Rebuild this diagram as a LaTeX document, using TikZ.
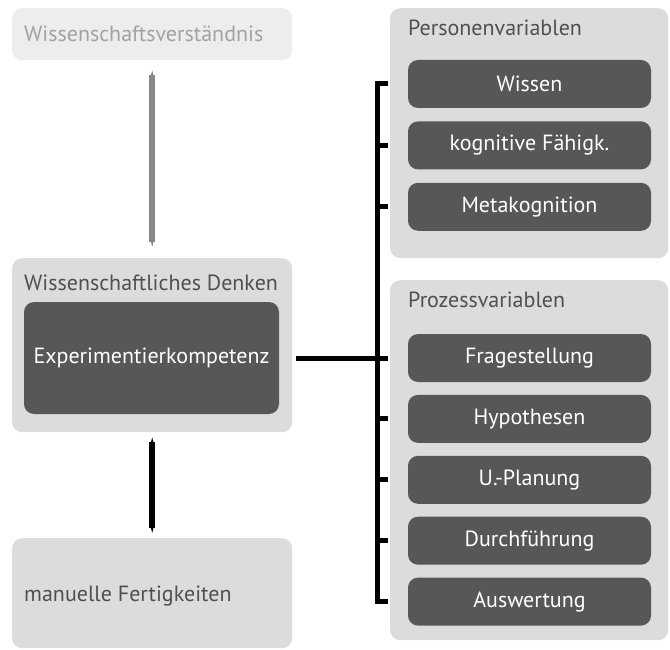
\documentclass[tikz,border=0pt]{standalone}
\usepackage{fontspec}
\setmainfont{PT Sans}
\usetikzlibrary{positioning, arrows.meta}
\definecolor{panel}{HTML}{DCDCDC}
\definecolor{pale}{HTML}{EDEDED}
\definecolor{slate}{HTML}{575757}
\definecolor{caption}{HTML}{505050}
\definecolor{faded}{HTML}{A2A2A2}
\definecolor{linkgray}{HTML}{888888}
\tikzset{
  panelbox/.style={fill=panel, rounded corners=10pt, anchor=north west},
  inner/.style={fill=slate, rounded corners=10pt, text=white, minimum width=243pt, minimum height=48pt, font=\fontsize{22}{26}\selectfont},
  title/.style={anchor=west, inner sep=0pt, text=caption, font=\fontsize{22}{26}\selectfont},
  link/.style={line width=6pt, {Stealth[length=8pt,width=4pt]}-{Stealth[length=8pt,width=4pt]}},
  bracket/.style={line width=5pt},
  >=Stealth,
}
\begin{document}
\begin{tikzpicture}[x=1pt, y=-1pt]
    \useasboundingbox (0,0) rectangle (670,650);
    % left column
    \node[panelbox, fill=pale, minimum width=280pt, minimum height=52pt] (verst) at (12,8) {};
    \node[title, text=faded] (versttext) at (24,34) {Wissenschaftsverständnis};
    \node[panelbox, minimum width=280pt, minimum height=174pt] (denken) at (12,258) {};
    \node[title] (denkentext) at (24,283) {Wissenschaftliches Denken};
    \node[inner, minimum width=255pt, minimum height=112pt] (kompetenz) at (151.5,358) {Experimentierkompetenz};
    \node[panelbox, minimum width=280pt, minimum height=110pt] (manuell) at (12,538) {};
    \node[title] (manuelltext) at (24,596) {manuelle Fertigkeiten};
    % right column
    \node[panelbox, minimum width=278pt, minimum height=250pt] (personen) at (390,8) {};
    \node[title] (personentext) at (408,28) {Personenvariablen};
    \node[inner] (wissen) at (529.5,84) {Wissen};
    \node[inner, below=13pt of wissen] (kognitiv) {kognitive Fähigk.};
    \node[inner, below=13pt of kognitiv] (meta) {Metakognition};
    \node[panelbox, minimum width=278pt, minimum height=360pt] (prozess) at (390,280) {};
    \node[title] (prozesstext) at (408,300) {Prozessvariablen};
    \node[inner] (frage) at (529.5,358) {Fragestellung};
    \node[inner, below=12.5pt of frage] (hypo) {Hypothesen};
    \node[inner, below=12.5pt of hypo] (planung) {U.-Planung};
    \node[inner, below=12.5pt of planung] (durch) {Durchführung};
    \node[inner, below=12.5pt of durch] (auswertung) {Auswertung};
    % connectors
    \draw[link, draw=linkgray, shorten <=10pt, shorten >=11pt] (verst) -- (denken);
    \draw[link, shorten <=5pt, shorten >=5pt] (denken) -- (manuell);
    \coordinate (btop) at ([xshift=-30pt]wissen.west);
    \coordinate (bbot) at ([xshift=-30pt]auswertung.west);
    \draw[bracket] ([xshift=-20pt]wissen.west) -- (btop) -- (bbot) -- ([xshift=-20pt]auswertung.west);
    \foreach \n in {kognitiv, meta, frage, hypo, planung, durch}
      \draw[bracket] ([xshift=-20pt]\n.west) -- (\n.west -| btop);
    \draw[bracket, shorten <=17pt] (kompetenz.east) -- (kompetenz.east -| btop);
\end{tikzpicture}
\end{document}
